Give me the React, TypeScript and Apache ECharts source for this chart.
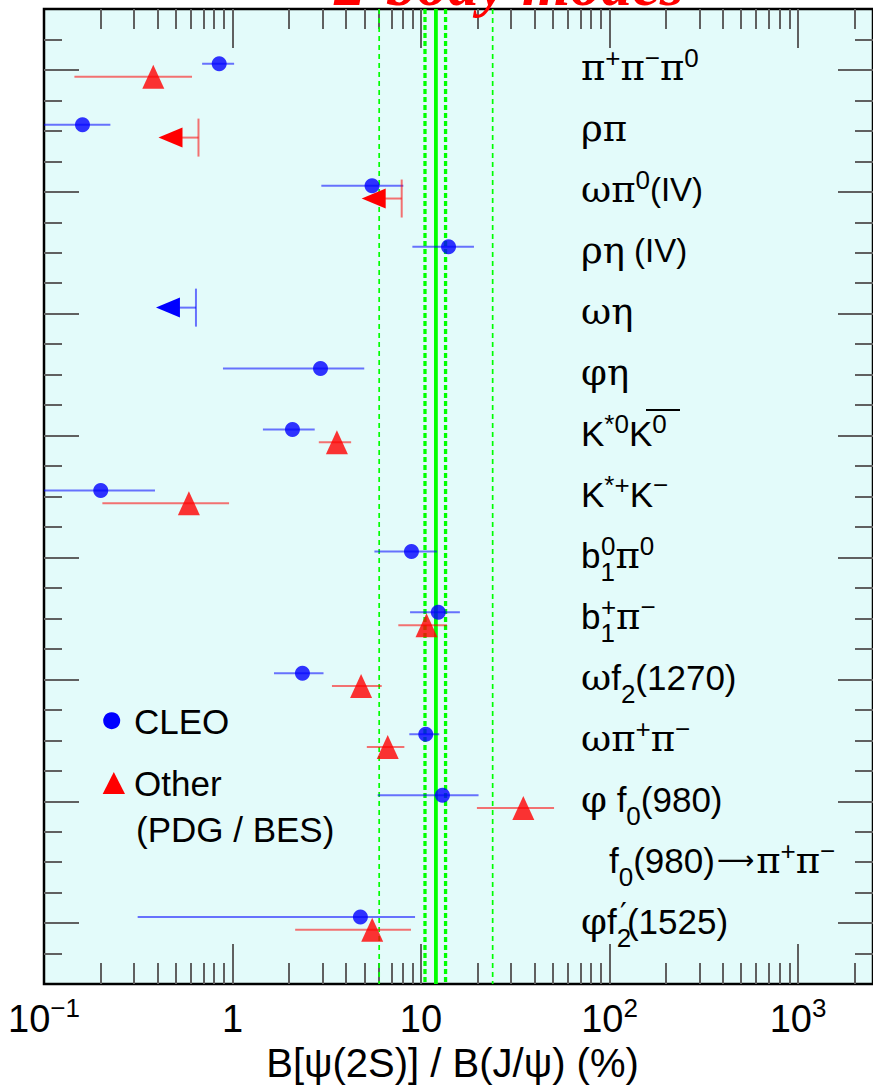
import React, { useEffect, useRef } from 'react';
import * as echarts from 'echarts';

// ---------------- data ----------------
// rows (top to bottom), y = 1..15
const rowNames = [
  'π+π−π0', 'ρπ', 'ωπ0(IV)', 'ρη (IV)', 'ωη', 'φη', 'K*0K̄0', 'K*+K−',
  'b1^0π0', 'b1^+π−', 'ωf2(1270)', 'ωπ+π−', 'φf0(980)', 'f0(980)→π+π−', 'φf2′(1525)',
];
const rowLabels = [
  '{g|π}{sup|+}{g|π}{sup|−}{g|π}{sup|0}',
  '{g|ρπ}',
  '{g|ωπ}{sup|0}{s|(IV)}',
  '{g|ρη}{s| (IV)}',
  '{g|ωη}',
  '{g|φη}',
  '{t|K}{sup|*0}{t|K}{sup|0}',
  '{t|K}{sup|*+}{t|K}{sup|−}',
  '{t|b}{sub|1}{stk|0}{g|π}{sup|0}',
  '{t|b}{sub|1}{stk|+}{g|π}{sup|−}',
  '{g|ω}{t|f}{sub|2}{t|(1270)}',
  '{g|ωπ}{sup|+}{g|π}{sup|−}',
  '{g|φ}{t| f}{sub|0}{t|(980)}',
  '{ind| }{t|f}{sub|0}{t|(980)}{arr|⟶}{g|π}{sup|+}{g|π}{sup|−}',
  '{g|φ}{t|f}{sub|2}{prm|′}{t|(1525)}',
];

// CLEO: central value, lower and upper ends of the error bar (%)
const cleoValue = [0.85, 0.16, 5.5, 14.0, null, 2.93, 2.08, 0.2, 8.9, 12.35, 2.35, 10.6, 13.0, null, 4.77];
const cleoLow = [0.69, 0.08, 2.96, 9.0, null, 0.89, 1.45, 0.07, 5.66, 8.75, 1.66, 8.67, 5.89, null, 0.314];
const cleoHigh = [1.02, 0.225, 8.06, 19.1, null, 5.0, 2.73, 0.388, 12.15, 16.08, 3.04, 12.5, 20.2, null, 9.3];
const cleoUpperLimit = [null, null, null, null, 0.64, null, null, null, null, null, null, null, null, null, null];

// Other (PDG / BES)
const otherValue = [0.38, null, null, null, null, null, 3.58, 0.587, null, 10.7, 4.81, 6.66, 34.9, null, 5.51];
const otherLow = [0.145, null, null, null, null, null, 2.87, 0.204, null, 7.58, 3.37, 5.16, 19.8, null, 2.15];
const otherHigh = [0.61, null, null, null, null, null, 4.26, 0.959, null, 13.73, 6.19, 8.16, 50.8, null, 8.85];
const otherUpperLimit = [null, 0.66, 7.9, null, null, null, null, null, null, null, null, null, null, null, null];

// "12% rule" reference lines
const ruleCentral = [12];
const ruleBand = [10.5, 13.5];
const ruleFactorTwo = [6, 24];

// axes
const X_MIN = 0.1;
const X_MAX = 2500;
const Y_MIN = 0;
const Y_MAX = 16;
const xTickLabelValues = [0.1, 1, 10, 100, 1000];
const xTickLabelTexts = ['{n|10}{e|−1}', '{n|1}', '{n|10}', '{n|10}{e|2}', '{n|10}{e|3}'];
const xMajorTicks = [1, 10, 100, 1000];
const xMinorTicks = [
  0.2, 0.3, 0.4, 0.5, 0.6, 0.7, 0.8, 0.9,
  2, 3, 4, 5, 6, 7, 8, 9,
  20, 30, 40, 50, 60, 70, 80, 90,
  200, 300, 400, 500, 600, 700, 800, 900, 2000,
];
const yMajorTicks = [1, 3, 5, 7, 9, 11, 13, 15];
const yMinorTicks = [
  0.5, 1.5, 2, 2.5, 3.5, 4, 4.5, 5.5, 6, 6.5, 7.5, 8, 8.5, 9.5, 10, 10.5,
  11.5, 12, 12.5, 13.5, 14, 14.5, 15.5,
];
const yLabelValues = [1, 2, 3, 4, 5, 6, 7, 8, 9, 10, 11, 12, 13, 14, 15];

const CLEO_DY = -0.1;
const OTHER_DY = 0.11;

const BLUE = '#0000ff';
const RED = '#ff0000';
const BLUE_BAR = 'rgba(0,0,255,0.55)';
const RED_BAR = 'rgba(255,0,0,0.55)';
const GREEN = '#00ff00';
const TICK = '#606060';

function points(vals: (number | null)[], dy: number) {
  const out: number[][] = [];
  vals.forEach((v, i) => { if (v != null) out.push([v, i + 1 + dy]); });
  return out;
}
function bars(lo: (number | null)[], hi: (number | null)[], dy: number) {
  const out: number[][] = [];
  lo.forEach((l, i) => { const h = hi[i]; if (l != null && h != null) out.push([l, h, i + 1 + dy]); });
  return out;
}

const barRender = (color: string) => (params: any, api: any) => {
  const a = api.coord([api.value(0), api.value(2)]);
  const b = api.coord([api.value(1), api.value(2)]);
  return { type: 'line', shape: { x1: a[0], y1: a[1], x2: b[0], y2: b[1] }, style: { stroke: color, lineWidth: 2 } };
};
const ulRender = (barColor: string, headColor: string) => (params: any, api: any) => {
  const p = api.coord([api.value(0), api.value(1)]);
  return {
    type: 'group',
    children: [
      { type: 'line', shape: { x1: p[0], y1: p[1] - 19, x2: p[0], y2: p[1] + 19 }, style: { stroke: barColor, lineWidth: 2 } },
      { type: 'line', shape: { x1: p[0], y1: p[1], x2: p[0] - 18, y2: p[1] }, style: { stroke: barColor, lineWidth: 2 } },
      { type: 'polygon', shape: { points: [[p[0] - 16, p[1] - 10], [p[0] - 16, p[1] + 10], [p[0] - 40, p[1]]] }, style: { fill: headColor } },
    ],
  };
};
const vlineRender = (width: number, dash: number[] | null) => (params: any, api: any) => {
  const a = api.coord([api.value(0), api.value(1)]);
  const b = api.coord([api.value(0), api.value(2)]);
  return {
    type: 'line',
    shape: { x1: a[0], y1: a[1], x2: b[0], y2: b[1] },
    style: { stroke: GREEN, lineWidth: width, lineDash: dash || undefined },
  };
};

const SANS = 'Liberation Sans';
const GREEK = 'DejaVu Serif';

const labelRich: any = {
  g: { fontFamily: GREEK, fontSize: 37, lineHeight: 46, color: '#000' },
  t: { fontFamily: SANS, fontSize: 35, lineHeight: 46, color: '#000' },
  s: { fontFamily: SANS, fontSize: 33, lineHeight: 46, color: '#000' },
  sup: { fontFamily: SANS, fontSize: 26, height: 27, verticalAlign: 'top', color: '#000' },
  stk: { fontFamily: SANS, fontSize: 26, height: 27, verticalAlign: 'top', color: '#000', padding: [0, 0, 0, -14] },
  prm: { fontFamily: 'DejaVu Sans', fontSize: 30, height: 30, verticalAlign: 'top', color: '#000', padding: [0, 0, 0, -11] },
  sub: { fontFamily: SANS, fontSize: 26, height: 13, verticalAlign: 'bottom', color: '#000' },
  arr: { fontFamily: 'DejaVu Sans', fontSize: 26, lineHeight: 46, color: '#000', padding: [0, 2, 0, 2] },
  ind: { width: 28, lineHeight: 46 },
};
const xRich: any = {
  n: { fontFamily: SANS, fontSize: 38, lineHeight: 42, color: '#000' },
  e: { fontFamily: SANS, fontSize: 26, height: 20, verticalAlign: 'top', color: '#000' },
};

const xBase = (pos: string, ticks: number[], len: number, labels: boolean) => ({
  type: 'log',
  logBase: 10,
  min: X_MIN,
  max: X_MAX,
  position: pos,
  axisLine: { show: false, onZero: false },
  splitLine: { show: false },
  axisTick: { show: true, inside: true, length: len, customValues: ticks, lineStyle: { color: TICK, width: 2 } },
  axisLabel: labels
    ? {
        show: true,
        customValues: xTickLabelValues,
        margin: 14,
        formatter: (v: number) => {
          const i = xTickLabelValues.findIndex((t) => Math.abs(Math.log10(t) - Math.log10(v)) < 1e-6);
          return i >= 0 ? xTickLabelTexts[i] : '';
        },
        rich: xRich,
      }
    : { show: false },
});
const yBase = (pos: string, ticks: number[], len: number) => ({
  type: 'value',
  min: Y_MIN,
  max: Y_MAX,
  inverse: true,
  position: pos,
  axisLine: { show: false, onZero: false },
  splitLine: { show: false },
  axisTick: { show: true, inside: true, length: len, customValues: ticks, lineStyle: { color: TICK, width: 2 } },
  axisLabel: { show: false },
});

export default function App() {
  const ref = useRef<HTMLDivElement>(null);
  useEffect(() => {
    if (!ref.current) return;
    const chart = echarts.init(ref.current, null, { renderer: 'svg' });
    const xAxes: any[] = [
      {
        ...xBase('bottom', xMajorTicks, 40, true),
        name: 'B[ψ(2S)] / B(J/ψ) (%)',
        nameLocation: 'middle',
        nameGap: 56,
        nameTextStyle: { fontFamily: SANS, fontSize: 40, color: '#000', padding: [0, 12, 0, 0] },
      },
      xBase('bottom', xMinorTicks, 21, false),
      xBase('top', xMajorTicks, 39, false),
      xBase('top', xMinorTicks, 20, false),
    ];
    const yAxes: any[] = [
      yBase('left', yMajorTicks, 35),
      yBase('left', yMinorTicks, 18),
      {
        ...yBase('right', yMajorTicks, 35),
        axisLabel: {
          show: true,
          inside: true,
          margin: 292,
          align: 'left',
          customValues: yLabelValues,
          padding: [0, 0, 4, 0],
          formatter: (v: number) => rowLabels[Math.round(v) - 1] || '',
          rich: labelRich,
        },
      },
      yBase('right', yMinorTicks, 18),
    ];
    const ruleData = (vals: number[]) => vals.map((v) => [v, Y_MIN, Y_MAX]);
    const option: any = {
      animation: false,
      grid: {
        left: 44,
        right: -2,
        top: 9,
        bottom: 102,
        show: true,
        backgroundColor: '#e3fbfa',
        borderColor: '#000',
        borderWidth: 2.5,
      },
      xAxis: xAxes,
      yAxis: yAxes,
      series: [
        { type: 'custom', name: 'rule2', renderItem: vlineRender(1.7, [5, 4]), data: ruleData(ruleFactorTwo), encode: { x: 0, y: [1, 2] }, z: 1, silent: true, clip: true },
        { type: 'custom', name: 'ruleBand', renderItem: vlineRender(3.3, [5, 3]), data: ruleData(ruleBand), encode: { x: 0, y: [1, 2] }, z: 1, silent: true, clip: true },
        { type: 'custom', name: 'ruleCentral', renderItem: vlineRender(3.8, null), data: ruleData(ruleCentral), encode: { x: 0, y: [1, 2] }, z: 1, silent: true, clip: true },
        { type: 'custom', name: 'cleoErr', renderItem: barRender(BLUE_BAR), data: bars(cleoLow, cleoHigh, CLEO_DY), encode: { x: [0, 1], y: 2 }, z: 2, silent: true, clip: true },
        { type: 'custom', name: 'otherErr', renderItem: barRender(RED_BAR), data: bars(otherLow, otherHigh, OTHER_DY), encode: { x: [0, 1], y: 2 }, z: 2, silent: true, clip: true },
        { type: 'custom', name: 'cleoUL', renderItem: ulRender(BLUE_BAR, BLUE), data: points(cleoUpperLimit, CLEO_DY), encode: { x: 0, y: 1 }, z: 3, silent: true, clip: true },
        { type: 'custom', name: 'otherUL', renderItem: ulRender(RED_BAR, RED), data: points(otherUpperLimit, OTHER_DY), encode: { x: 0, y: 1 }, z: 3, silent: true, clip: true },
        { type: 'scatter', name: 'CLEO', symbol: 'circle', symbolSize: 15, itemStyle: { color: BLUE }, data: points(cleoValue, CLEO_DY), z: 4, silent: true },
        { type: 'scatter', name: 'Other', symbol: 'triangle', symbolSize: [22, 24], itemStyle: { color: RED }, data: points(otherValue, OTHER_DY), z: 4, silent: true },
      ],
      graphic: [
        {
          type: 'text', x: 509, y: -16, z: 100, silent: true,
          style: { text: '2-body modes', font: 'italic bold 62px "Liberation Serif"', fill: RED, align: 'center', verticalAlign: 'middle' },
        },
        { type: 'line', z: 100, silent: true, shape: { x1: 646, y1: 410, x2: 680, y2: 410 }, style: { stroke: '#000', lineWidth: 2 } },
        { type: 'circle', z: 100, silent: true, shape: { cx: 111.7, cy: 720.7, r: 8.5 }, style: { fill: BLUE } },
        { type: 'polygon', z: 100, silent: true, shape: { points: [[113.8, 772], [102.7, 794], [125, 794]] }, style: { fill: RED } },
        { type: 'text', x: 134, y: 721, z: 100, silent: true, style: { text: 'CLEO', font: '35px "Liberation Sans"', fill: '#000', align: 'left', verticalAlign: 'middle' } },
        { type: 'text', x: 134, y: 783, z: 100, silent: true, style: { text: 'Other', font: '35px "Liberation Sans"', fill: '#000', align: 'left', verticalAlign: 'middle' } },
        { type: 'text', x: 136, y: 829, z: 100, silent: true, style: { text: '(PDG / BES)', font: '35px "Liberation Sans"', fill: '#000', align: 'left', verticalAlign: 'middle' } },
      ],
    };
    chart.setOption(option);
    return () => chart.dispose();
  }, []);
  return <div ref={ref} style={{ position: 'fixed', left: 0, top: 0, width: 873, height: 1088, background: '#fff' }} />;
}
